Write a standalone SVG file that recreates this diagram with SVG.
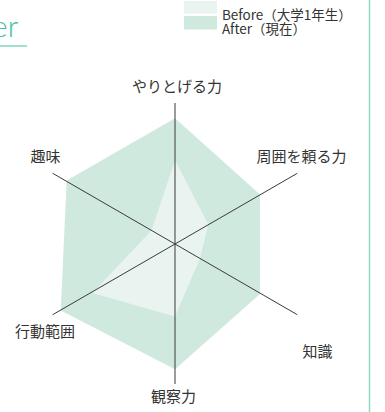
<svg xmlns="http://www.w3.org/2000/svg" width="385" height="412" viewBox="0 0 385 412">
<style>
.lbl{font-family:"Noto Sans CJK JP","Noto Sans",sans-serif;font-size:15px;fill:#333;text-anchor:middle}
.leg{font-family:"Noto Sans CJK JP","Noto Sans",sans-serif;font-size:13.5px;fill:#333}
.axis{stroke:#3a3a3a;stroke-width:1;fill:none}
</style>
<rect width="385" height="412" fill="#fff"/>
<g id="title">
<text x="-8" y="37" font-family="Lato,'Noto Sans',sans-serif" font-weight="300" font-size="30" fill="#45c09f">er</text>
<line x1="0" y1="46" x2="27" y2="46" stroke="#7fd6bf" stroke-width="1.5"/>
</g>
<line id="rule" x1="369.5" y1="0" x2="369.5" y2="412" stroke="#8fd9c9" stroke-width="1.5"/>
<g id="legend">
<rect x="184" y="1" width="33" height="12.5" fill="#e9f4f0"/>
<rect x="184" y="16" width="33" height="13.5" fill="#d0e9df"/>
<text class="leg" x="222" y="20">Before（大学1年生）</text>
<text class="leg" x="222" y="34">After（現在）</text>
</g>
<g id="after">
<polygon points="175,118.3 260,194.5 260,294 175,369.3 60.7,310.5 66.7,180.5" fill="#d0e9df"/>
</g>
<g id="before">
<polygon points="175,160 208.3,224.5 200,258.5 175,316.5 92.5,293 151.5,230.5" fill="#e9f4f0"/>
</g>
<g id="axes">
<line class="axis" x1="175" y1="103" x2="175" y2="384"/>
<line class="axis" x1="52.7" y1="173.3" x2="297.3" y2="314.7"/>
<line class="axis" x1="297.3" y1="173.3" x2="52.7" y2="314.7"/>
</g>
<g id="labels">
<text id="l1" class="lbl" x="177" y="92">やりとげる力</text>
<text id="l2" class="lbl" x="301.5" y="162">周囲を頼る力</text>
<text id="l3" class="lbl" x="317.5" y="356.5">知識</text>
<text id="l4" class="lbl" x="173.5" y="401.5">観察力</text>
<text id="l5" class="lbl" x="45" y="336.5">行動範囲</text>
<text id="l6" class="lbl" x="45.5" y="162">趣味</text>
</g>
</svg>
